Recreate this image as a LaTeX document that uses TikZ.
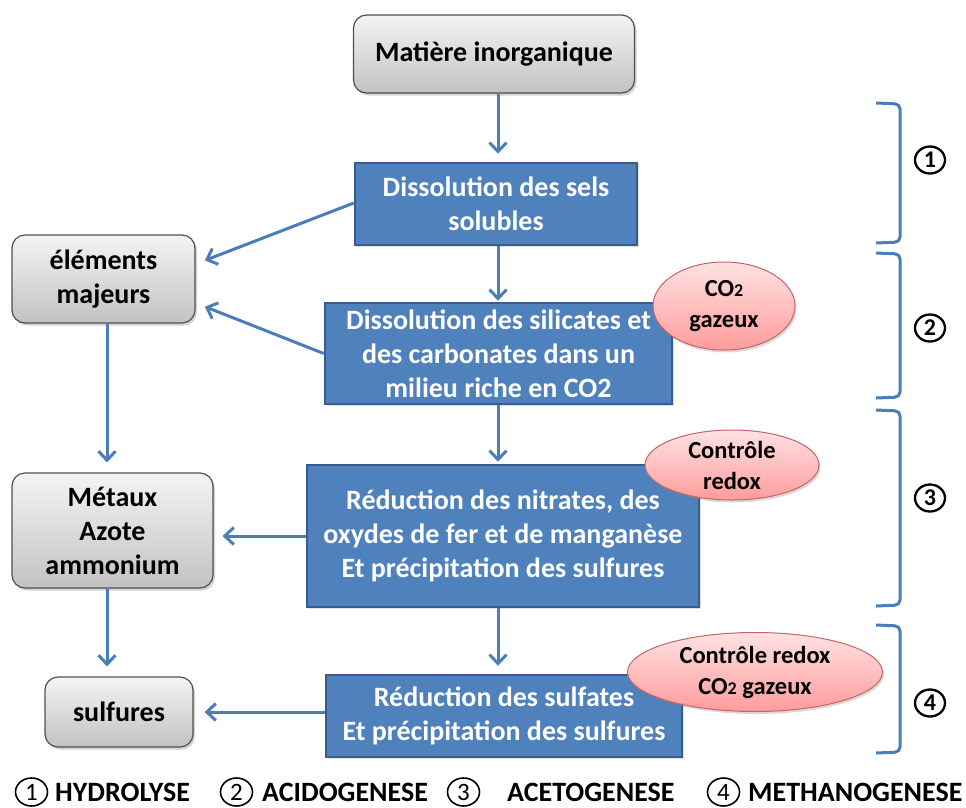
\documentclass[tikz,border=0pt]{standalone}
\usepackage{fontspec}
\setmainfont{Carlito}
\usetikzlibrary{arrows.meta,shadows,shapes.geometric}
\definecolor{boxblue}{HTML}{4F81BD}
\definecolor{boxblueline}{HTML}{385D8A}
\definecolor{arrowblue}{HTML}{4A7EBB}
\definecolor{graytop}{HTML}{F4F4F4}
\definecolor{graybot}{HTML}{C2C2C2}
\definecolor{grayline}{HTML}{505050}
\definecolor{pinktop}{HTML}{FFE2E2}
\definecolor{pinkbot}{HTML}{FF9C9C}
\definecolor{pinkline}{HTML}{C86464}
\newcommand{\cotwo}{CO{\fontsize{18}{18}\selectfont 2}}
\tikzset{
  graybox/.style={draw=grayline, line width=1.2pt, rounded corners=13pt,
    top color=graytop, bottom color=graybot, inner sep=0pt, align=center,
    font=\bfseries\fontsize{28}{34}\selectfont, text=black,
    drop shadow={shadow xshift=2pt, shadow yshift=-2.5pt, opacity=0.35}},
  bluebox/.style={draw=boxblueline, line width=2.5pt, fill=boxblue,
    inner sep=0pt, align=center, text=white,
    font=\bfseries\fontsize{28}{34}\selectfont,
    drop shadow={shadow xshift=1.5pt, shadow yshift=-2pt, opacity=0.25}},
  pinkell/.style={ellipse, draw=pinkline, line width=1pt, top color=pinktop,
    bottom color=pinkbot, inner sep=0pt, align=center, text=black,
    font=\bfseries\fontsize{24.5}{31}\selectfont,
    drop shadow={shadow xshift=1.5pt, shadow yshift=-2.5pt, opacity=0.3}},
  arr/.style={draw=arrowblue, line width=3pt,
    -{Straight Barb[length=9pt,width=17pt,line width=3pt]}},
  bracketline/.style={draw=arrowblue, line width=3pt, rounded corners=5pt},
  numlabel/.style={ellipse, draw=black, line width=2.3pt, minimum width=30pt,
    minimum height=27pt, inner sep=0pt, font=\bfseries\fontsize{24}{24}\selectfont},
  legend/.style={font=\bfseries\fontsize{28}{28}\selectfont, inner sep=0pt, anchor=base west},
  legnum/.style={ellipse, draw=black, line width=1.6pt, minimum width=32pt,
    minimum height=28pt, inner sep=0pt, font=\fontsize{25}{25}\selectfont}
}
\begin{document}
\begin{tikzpicture}[x=1pt,y=-1pt]
\useasboundingbox (0,0) rectangle (966,807);
% nodes
\node[graybox, minimum width=281pt, minimum height=78pt] (mi) at (494,54) {Matière inorganique};
\node[bluebox, minimum width=282pt, minimum height=82pt] (d1) at (496,204) {Dissolution des sels\\solubles};
\node[graybox, minimum width=183pt, minimum height=88pt] (em) at (103.5,279) {éléments\\majeurs};
\node[bluebox, minimum width=347pt, minimum height=101pt] (d2) at (498.5,353.5) {Dissolution des silicates et\\des carbonates dans un\\milieu riche en CO2};
\node[bluebox, minimum width=392pt, minimum height=142pt] (r3) at (503,536) {Réduction des nitrates, des\\oxydes de fer et de manganèse\\Et précipitation des sulfures};
\node[graybox, minimum width=201pt, minimum height=115pt] (met) at (112.5,530.5) {Métaux\\Azote\\ammonium};
\node[graybox, minimum width=148pt, minimum height=70pt] (sul) at (119,712) {sulfures};
\node[bluebox, minimum width=356pt, minimum height=82pt] (r4) at (504,716) {Réduction des sulfates\\Et précipitation des sulfures};
\node[pinkell, minimum width=142pt, minimum height=88pt] (co2) at (724,306) {\cotwo\\gazeux};
\node[pinkell, minimum width=174pt, minimum height=70pt] (cr) at (732,465) {Contrôle\\redox};
\node[pinkell, minimum width=255pt, minimum height=79pt] (cr2) at (755,672) {Contrôle redox\\\cotwo{} gazeux};
% helper coordinates
\coordinate (vx) at (107,0);
\coordinate (cx) at (498,0);
% arrows
\draw[arr, shorten >=8pt] (mi.south -| cx) -- (d1.north -| cx);
\draw[arr, shorten >=1pt] (d1.south -| cx) -- (d2.north -| cx);
\draw[arr, shorten >=2pt] (d2.south -| cx) -- (r3.north -| cx);
\draw[arr, shorten >=8pt] (r3.south -| cx) -- (r4.north -| cx);
\draw[arr, shorten >=10pt] ([yshift=1pt]d1.west) -- ([yshift=15pt]em.east);
\draw[arr, shorten >=10pt] (d2.west) -- ([yshift=-24pt]em.east);
\draw[arr, shorten >=10pt] (em.south -| vx) -- (met.north -| vx);
\draw[arr, shorten >=10pt] (met.south -| vx) -- (sul.north -| vx);
\draw[arr, shorten >=9pt] (r3.west) -- (r3.west -| met.east);
\draw[arr, shorten >=11pt] (r4.west |- sul.east) -- (sul.east);
% brackets
\draw[bracketline] (876,103) -- (900,104) -- (900,242) -- (876,243);
\draw[bracketline] (876,253) -- (900,254) -- (900,397) -- (876,398);
\draw[bracketline] (876,410) -- (900,411) -- (900,605) -- (876,606);
\draw[bracketline] (876,625) -- (900,626) -- (900,752) -- (876,753);
\node[numlabel] (n1) at (930,160) {1};
\node[numlabel] (n2) at (930,328) {2};
\node[numlabel] (n3) at (930,498) {3};
\node[numlabel] (n4) at (930,703) {4};
% legend
\node[legnum] (l1) at (31.5,792) {1};
\node[legend] (t1) at (55,801) {HYDROLYSE};
\node[legnum] (l2) at (236.5,792) {2};
\node[legend] (t2) at (262,801) {ACIDOGENESE};
\node[legnum] (l3) at (463.5,792) {3};
\node[legend] (t3) at (507,801) {ACETOGENESE};
\node[legnum] (l4) at (723.5,792) {4};
\node[legend] (t4) at (748,801) {METHANOGENESE};
\end{tikzpicture}
\end{document}
